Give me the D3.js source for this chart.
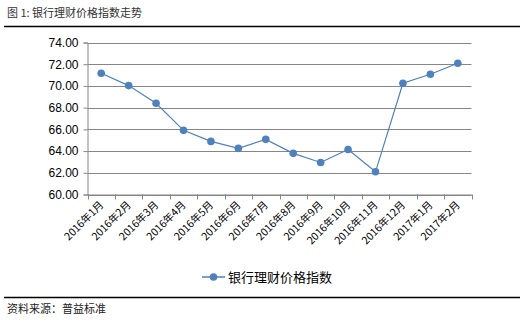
<!DOCTYPE html>
<html><head><meta charset="utf-8">
<script src="https://cdn.jsdelivr.net/npm/d3@7"></script>
<style>body{margin:0;background:#fff}svg{display:block}</style>
</head><body>
<script>
const categories = ["2016年1月","2016年2月","2016年3月","2016年4月","2016年5月","2016年6月","2016年7月","2016年8月","2016年9月","2016年10月","2016年11月","2016年12月","2017年1月","2017年2月"];
const values = [71.17,70.03,68.40,65.91,64.89,64.25,65.08,63.79,62.95,64.15,62.09,70.25,71.08,72.09];
const yTicks = [60,62,64,66,68,70,72,74];
const seriesName = "银行理财价格指数";
const title = "图 1: 银行理财价格指数走势";
const source = "资料来源：普益标准";

const W=527,H=323;
const font = "'Noto Sans CJK SC','Microsoft YaHei',sans-serif";
const svg=d3.select("body").append("svg").attr("width",W).attr("height",H);

svg.append("text").attr("x",7).attr("y",17).attr("font-family",font).attr("font-size",11).attr("fill","#333").text(title);
svg.append("line").attr("x1",4).attr("x2",520).attr("y1",26.5).attr("y2",26.5).attr("stroke","#000").attr("stroke-width",1.3);
svg.append("line").attr("x1",4).attr("x2",520).attr("y1",297.5).attr("y2",297.5).attr("stroke","#000").attr("stroke-width",1.3);
svg.append("text").attr("x",7).attr("y",313).attr("font-family",font).attr("font-size",11).attr("fill","#222").text(source);

const x=d3.scaleBand().domain(categories).range([87.5,471.5]);
const y=d3.scaleLinear().domain([60,74]).range([194.5,42.5]);

const g=svg.append("g");
g.selectAll("line.grid").data(yTicks).join("line")
 .attr("x1",87.5).attr("x2",471.5).attr("y1",d=>Math.round(y(d))+0.5).attr("y2",d=>Math.round(y(d))+0.5)
 .attr("stroke","#868686").attr("stroke-width",1);

const ya=g.append("g").attr("transform","translate(87.5,0)").call(d3.axisLeft(y).tickValues(yTicks).tickFormat(d3.format(".2f")).tickSize(4).tickPadding(5));
ya.select(".domain").attr("stroke","#868686");
ya.selectAll(".tick line").attr("stroke","#868686");
ya.selectAll("text").attr("font-family","Arial, 'Liberation Sans', sans-serif").attr("font-size",12).attr("fill","#000");

const xa=g.append("g").attr("transform","translate(0,194.5)").call(d3.axisBottom(x).tickSize(0).tickSizeOuter(0));
xa.select(".domain").attr("stroke","#868686");
const bounds=categories.map(c=>x(c)).concat([x.range()[1]]);
g.selectAll("line.xt").data(bounds).join("line")
 .attr("x1",d=>Math.round(d)+0.5).attr("x2",d=>Math.round(d)+0.5).attr("y1",194.5).attr("y2",199.5)
 .attr("stroke","#868686");
xa.selectAll(".tick text").attr("font-family",font).attr("font-size",10.5).attr("fill","#000")
 .attr("text-anchor","end").attr("dy",null).attr("y",0)
 .attr("transform","translate(3,11) rotate(-45)");

const cx=d=>x(d.c)+x.bandwidth()/2;
const data=categories.map((c,i)=>({c,v:values[i]}));
g.append("path").datum(data).attr("fill","none").attr("stroke","#4f81bd").attr("stroke-width",1.2)
 .attr("d",d3.line().x(cx).y(d=>y(d.v)));
g.selectAll("circle").data(data).join("circle").attr("cx",cx).attr("cy",d=>y(d.v)).attr("r",3.8).attr("fill","#4f81bd");

const lg=svg.append("g");
lg.append("line").attr("x1",202).attr("x2",225).attr("y1",277).attr("y2",277).attr("stroke","#4f81bd").attr("stroke-width",1.5);
lg.append("circle").attr("cx",213.5).attr("cy",277).attr("r",3.8).attr("fill","#4f81bd");
lg.append("text").attr("x",228).attr("y",282).attr("font-family",font).attr("font-size",13).attr("fill","#000").text(seriesName);
</script>
</body></html>
